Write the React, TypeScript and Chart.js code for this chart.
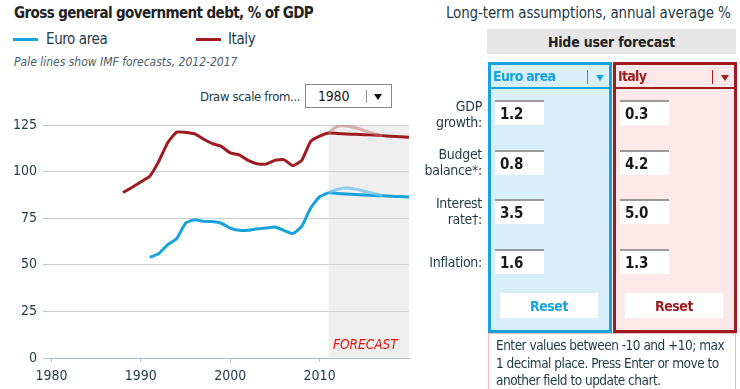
import React, { useEffect, useRef } from "react";
import { Chart, registerables } from "chart.js";

Chart.register(...registerables);

const FONT = '"DejaVu Sans Condensed", "DejaVu Sans", sans-serif';

const euroYears = [1991, 1992, 1993, 1994, 1995, 1996, 1997, 1998, 1999, 2000, 2001, 2002, 2003, 2004, 2005, 2006, 2007, 2008, 2009, 2010, 2011, 2012, 2013, 2014, 2015, 2016, 2017, 2018, 2019, 2020];
const euroDebt = [54, 56, 60.8, 64, 72.3, 74.2, 73.3, 73.2, 72.3, 69.7, 68.5, 68.5, 69.3, 69.7, 70.3, 68.5, 66.8, 70.6, 80.5, 86.5, 88.6, 88.3, 88.0, 87.7, 87.5, 87.2, 87.0, 86.8, 86.6, 86.4];
const italyYears = [1988, 1989, 1990, 1991, 1992, 1993, 1994, 1995, 1996, 1997, 1998, 1999, 2000, 2001, 2002, 2003, 2004, 2005, 2006, 2007, 2008, 2009, 2010, 2011, 2012, 2013, 2014, 2015, 2016, 2017, 2018, 2019, 2020];
const italyDebt = [88.8, 91.5, 94.5, 97.5, 105.5, 115.5, 121.2, 121, 120.3, 117.5, 115, 113.5, 110, 109, 106, 104.2, 104, 106, 106.4, 103.2, 106, 116.2, 119, 120.7, 120.5, 120.2, 120.0, 119.8, 119.6, 119.3, 119.0, 118.7, 118.4];
const imfYears = [2011, 2012, 2013, 2014, 2015, 2016, 2017];
const euroImf = [88.6, 90.5, 91.2, 90.6, 89.5, 88.3, 87.2];
const italyImf = [120.7, 124.3, 124.5, 123.5, 122.0, 120.5, 119.3];
const xTickYears = [1980, 1990, 2000, 2010];
const forecastStart = 2011;

const assumptionLabels = [["GDP", "growth:"], ["Budget", "balance*:"], ["Interest", "rate\u2020:"], ["Inflation:"]];
const euroInputs = ["1.2", "0.8", "3.5", "1.6"];
const italyInputs = ["0.3", "4.2", "5.0", "1.3"];
const noteLines = ["Enter values between -10 and +10; max", "1 decimal place. Press Enter or move to", "another field to update chart."];

const BLUE = "#17a2dc";
const RED = "#9e1b1f";
const TEXT = "#1e3b46";

const pts = (xs: number[], ys: number[]) => xs.map((x, i) => ({ x, y: ys[i] }));

const shadePlugin = {
  id: "shade",
  beforeDraw(chart: any) {
    const { ctx, chartArea, scales } = chart;
    const x0 = scales.x.getPixelForValue(forecastStart);
    ctx.save();
    ctx.fillStyle = "#efefef";
    ctx.fillRect(x0, chartArea.top, chartArea.right - x0, chartArea.bottom - chartArea.top);
    ctx.restore();
  },
};

function DebtChart() {
  const ref = useRef<HTMLCanvasElement>(null);
  useEffect(() => {
    const chart = new Chart(ref.current!, {
      type: "line",
      data: {
        datasets: [
          { data: pts(imfYears, italyImf), borderColor: "rgba(200,120,120,0.55)", borderWidth: 3, pointRadius: 0, tension: 0.4 },
          { data: pts(imfYears, euroImf), borderColor: "rgba(110,195,235,0.75)", borderWidth: 3, pointRadius: 0, tension: 0.4 },
          { data: pts(italyYears, italyDebt), borderColor: RED, borderWidth: 3, pointRadius: 0, tension: 0.15 },
          { data: pts(euroYears, euroDebt), borderColor: BLUE, borderWidth: 3, pointRadius: 0, tension: 0.15 },
        ],
      },
      options: {
        animation: false,
        responsive: false,
        layout: { padding: { top: 15, right: 11, left: 0, bottom: 0 } },
        plugins: { legend: { display: false }, tooltip: { enabled: false } },
        scales: {
          x: {
            type: "linear",
            min: 1979.5,
            max: 2020,
            afterFit: (s: any) => { s.height = 31; },
            afterBuildTicks: (s: any) => { s.ticks = xTickYears.map((v) => ({ value: v })); },
            grid: { drawOnChartArea: false, drawTicks: true, tickLength: 4, color: "#a9c1cf" },
            border: { display: true, color: "#a9c1cf", width: 1 },
            ticks: { padding: 6, color: TEXT, font: { family: FONT, size: 14 }, callback: (v: any) => String(v), maxRotation: 0 },
          },
          y: {
            min: 0,
            max: 125,
            afterFit: (s: any) => { s.width = 47; },
            grid: { color: "#cfcfcf", tickColor: "#a9cde0", tickLength: 4, drawTicks: true },
            border: { display: false },
            ticks: { stepSize: 25, padding: 6, color: TEXT, font: { family: FONT, size: 14 } },
          },
        },
      },
      plugins: [shadePlugin],
    } as any);
    return () => chart.destroy();
  }, []);
  return <canvas ref={ref} width={420} height={279} style={{ display: "block" }} />;
}

const abs = (s: React.CSSProperties): React.CSSProperties => ({ position: "absolute", ...s });

export default function App() {
  const rowTops = [100, 150, 199, 249];
  const labelCenters = [114, 161.5, 210.5, 262];
  return (
    <div style={abs({ left: 0, top: 0, width: 740, height: 389, overflow: "hidden", background: "#fff", fontFamily: FONT, color: TEXT })}>
      <div style={abs({ left: 14, top: 4, fontSize: 15, fontWeight: "bold", color: "#222", lineHeight: "18px", letterSpacing: -0.6, whiteSpace: "nowrap" })}>
        Gross general government debt, % of GDP
      </div>
      <div style={abs({ left: 13, top: 38, width: 25, height: 3, background: BLUE })} />
      <div style={abs({ left: 46, top: 31, fontSize: 15, lineHeight: "17px", letterSpacing: -0.4, color: TEXT })}>Euro area</div>
      <div style={abs({ left: 196, top: 38, width: 25, height: 3, background: RED })} />
      <div style={abs({ left: 228, top: 31, fontSize: 15, lineHeight: "17px", letterSpacing: -0.4, color: TEXT })}>Italy</div>
      <div style={abs({ left: 14, top: 55, fontSize: 12, fontStyle: "italic", lineHeight: "15px", color: "#4a5c64", whiteSpace: "nowrap" })}>
        Pale lines show IMF forecasts, 2012-2017
      </div>
      <div style={abs({ left: 200, top: 89, fontSize: 13, lineHeight: "16px", letterSpacing: -0.35, color: TEXT, whiteSpace: "nowrap" })}>Draw scale from...</div>
      <div style={abs({ left: 305, top: 84, width: 85, height: 22, border: "1px solid #8a8a8a", background: "#fff" })}>
        <div style={abs({ left: 12, top: 3, fontSize: 14, lineHeight: "16px", letterSpacing: -0.2, color: "#1a1a1a" })}>1980</div>
        <div style={abs({ left: 60, top: 5, width: 1, height: 13, background: "#999" })} />
        <div style={abs({ left: 68, top: 9, width: 0, height: 0, borderLeft: "4px solid transparent", borderRight: "4px solid transparent", borderTop: "6px solid #111" })} />
      </div>
      <div style={abs({ left: 0, top: 110, width: 420, height: 279 })}>
        <DebtChart />
      </div>
      <div style={abs({ left: 333, top: 336, fontSize: 13.5, fontStyle: "italic", color: "#e3120b", lineHeight: "16px" })}>FORECAST</div>

      <div style={abs({ left: 446, top: 5, fontSize: 15, lineHeight: "17px", letterSpacing: -0.15, color: TEXT, whiteSpace: "nowrap" })}>
        Long-term assumptions, annual average %
      </div>
      <div style={abs({ left: 487, top: 29, width: 249, height: 25, background: "#e6e6e6", display: "flex", alignItems: "center", justifyContent: "center", fontSize: 14, fontWeight: "bold", letterSpacing: -0.2, color: "#222" })}>
        Hide user forecast
      </div>
      {assumptionLabels.map((lines, i) => (
        <div key={i} style={abs({ left: 400, width: 82, top: labelCenters[i] - (lines.length * 16) / 2, textAlign: "right", fontSize: 14, lineHeight: "16px", letterSpacing: -0.3, color: TEXT, whiteSpace: "nowrap" })}>
          {lines.map((l, j) => <div key={j}>{l}</div>)}
        </div>
      ))}
      {[
        { left: 488, name: "Euro area", color: BLUE, bg: "#d8eef9", vals: euroInputs },
        { left: 613, name: "Italy", color: RED, bg: "#fde9e9", vals: italyInputs },
      ].map((p, k) => (
        <div key={k} style={abs({ left: p.left, top: 62, width: 124, height: 271, boxSizing: "border-box", border: `3px solid ${p.color}`, background: p.bg })}>
          <div style={abs({ left: 0, top: 0, width: 118, height: 22, borderBottom: `2px solid ${p.color}` })}>
            <div style={abs({ left: 2, top: 3, fontSize: 14, fontWeight: "bold", letterSpacing: -0.7, color: p.color, lineHeight: "17px" })}>{p.name}</div>
            <div style={abs({ left: 96, top: 5, width: 1, height: 14, background: p.color })} />
            <div style={abs({ left: 105, top: 10, width: 0, height: 0, borderLeft: "4px solid transparent", borderRight: "4px solid transparent", borderTop: `6px solid ${p.color}` })} />
          </div>
          {p.vals.map((v, i) => (
            <div key={i} style={abs({ left: 4, top: rowTops[i] - 65, width: 49, height: 25, boxSizing: "border-box", background: "#fff", borderTop: "2px solid #9a9a9a" })}>
              <div style={abs({ left: 5, top: 3, fontSize: 15, fontWeight: "bold", letterSpacing: -0.3, color: "#1a1a1a", lineHeight: "18px" })}>{v}</div>
            </div>
          ))}
          <div style={abs({ left: 9, top: 228, width: 98, height: 25, background: "#fff", display: "flex", alignItems: "center", justifyContent: "center", fontSize: 14, fontWeight: "bold", letterSpacing: -0.5, color: p.color })}>
            Reset
          </div>
        </div>
      ))}
      <div style={abs({ left: 488, top: 333, width: 248, height: 60, boxSizing: "border-box", border: "1px solid #f2b9b9", background: "#fff" })}>
        <div style={abs({ left: 7, top: 3, fontSize: 13.5, lineHeight: "17.5px", letterSpacing: -0.5, color: TEXT, whiteSpace: "nowrap" })}>
          {noteLines.map((l, i) => <div key={i}>{l}</div>)}
        </div>
      </div>
    </div>
  );
}
